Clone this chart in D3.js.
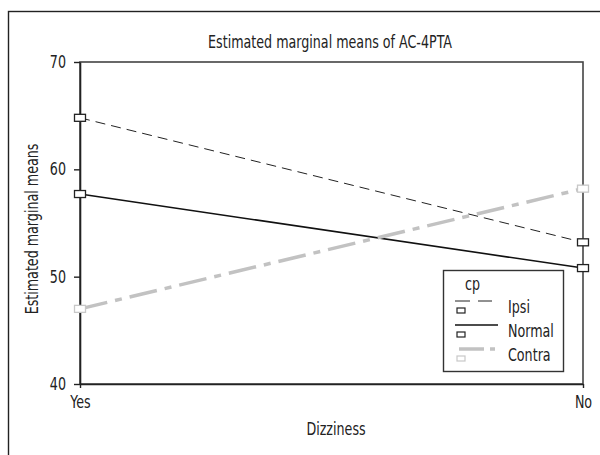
<!DOCTYPE html>
<html>
<head>
<meta charset="utf-8">
<script src="https://cdn.jsdelivr.net/npm/d3@7"></script>
<style>
  body { margin: 0; background: #fff; }
  text { font-family: "Liberation Sans Narrow", "DejaVu Sans Condensed", sans-serif; fill: #222; }
</style>
</head>
<body>
<svg id="chart" width="600" height="455"></svg>
<script>
// data
var categories = ["Yes", "No"];
var ipsi = [64.8, 53.2];
var normal = [57.7, 50.8];
var contra = [47.0, 58.2];
var yTicks = [40, 50, 60, 70];
var seriesNames = ["Ipsi", "Normal", "Contra"];

var translate = function(x, y) { return "translate(" + x + "," + y + ")"; };
// squeeze the text a bit, the source uses a narrow font
var squeeze = " scale(0.83,1)";

var svg = d3.select("#chart");
var margin = { top: 62, right: 17, bottom: 71, left: 80 };
var plotWidth = 600 - margin.left - margin.right;
var plotHeight = 455 - margin.top - margin.bottom;

// outer frame, cut off right and bottom like the source
svg.append("rect")
  .attr("x", 8.5).attr("y", 11.5)
  .attr("width", 700).attr("height", 700)
  .attr("fill", "none").attr("stroke", "#222").attr("stroke-width", 1.4);

var x = d3.scalePoint().domain(categories).range([0, plotWidth]);
var y = d3.scaleLinear().domain([40, 70]).range([plotHeight, 0]);

var plot = svg.append("g").attr("transform", translate(margin.left, margin.top));

// plot box
plot.append("rect")
  .attr("x", 0).attr("y", 0)
  .attr("width", plotWidth).attr("height", plotHeight)
  .attr("fill", "none").attr("stroke", "#444").attr("stroke-width", 1.6);

var gy = plot.append("g").call(d3.axisLeft(y).tickValues(yTicks).tickSize(6).tickSizeOuter(0).tickPadding(7));
var gx = plot.append("g").attr("transform", translate(0, plotHeight))
  .call(d3.axisBottom(x).tickSize(4).tickSizeOuter(0).tickPadding(6));

[gx, gy].forEach(function(g) {
  g.select(".domain").attr("stroke", "#222").attr("stroke-width", 1.6);
  g.selectAll(".tick line").attr("stroke", "#222").attr("stroke-width", 1.4);
  g.selectAll(".tick text")
    .style("font-family", "'Liberation Sans Narrow', 'DejaVu Sans Condensed', sans-serif")
    .style("font-size", "17px").attr("fill", "#222");
});
gy.selectAll(".tick text").attr("x", 0).attr("transform", "translate(-14,0)" + squeeze);
gx.selectAll(".tick text").attr("y", 0).attr("transform", "translate(0,12)" + squeeze);

var series = [
  { name: "Ipsi", values: ipsi, color: "#222", width: 1, dash: "10,6", mark: "#222" },
  { name: "Normal", values: normal, color: "#111", width: 1.6, dash: null, mark: "#222" },
  { name: "Contra", values: contra, color: "#c2c2c2", width: 3.5, dash: "28,8,7,8", mark: "#c8c8c8" }
];

var line = d3.line()
  .x(function(d, i) { return x(categories[i]); })
  .y(function(d) { return y(d); });

series.forEach(function(s) {
  plot.append("path")
    .datum(s.values)
    .attr("d", line)
    .attr("fill", "none")
    .attr("stroke", s.color)
    .attr("stroke-width", s.width)
    .attr("stroke-dasharray", s.dash);
});

series.forEach(function(s) {
  plot.selectAll(null)
    .data(s.values)
    .enter().append("rect")
    .attr("x", function(d, i) { return x(categories[i]) - 5.5; })
    .attr("y", function(d) { return y(d) - 3.5; })
    .attr("width", 11).attr("height", 7)
    .attr("fill", "#fff")
    .attr("stroke", s.mark).attr("stroke-width", 1.3);
});

// titles
svg.append("text")
  .attr("transform", translate(330, 48) + squeeze)
  .attr("text-anchor", "middle")
  .style("font-size", "17px")
  .text("Estimated marginal means of AC-4PTA");

svg.append("text")
  .attr("transform", translate(336, 435) + squeeze)
  .attr("text-anchor", "middle")
  .style("font-size", "17px")
  .text("Dizziness");

svg.append("text")
  .attr("transform", translate(38, 229) + " rotate(-90)" + squeeze)
  .attr("text-anchor", "middle")
  .style("font-size", "17px")
  .text("Estimated marginal means");

// legend
var legend = svg.append("g").attr("transform", translate(443, 270));
legend.append("rect")
  .attr("x", 0.5).attr("y", 0.5)
  .attr("width", 120).attr("height", 101)
  .attr("fill", "#fff").attr("stroke", "#333").attr("stroke-width", 1.4);

legend.append("text")
  .attr("transform", translate(22, 20) + squeeze)
  .style("font-size", "17px")
  .text("cp");

var item = legend.selectAll(".item")
  .data(series)
  .enter().append("g")
  .attr("class", "item")
  .attr("transform", function(d, i) { return translate(0, 31 + i * 24); });

item.append("line")
  .attr("x1", function(d) { return d.name === "Contra" ? 16 : 12; })
  .attr("x2", function(d) { return d.name === "Ipsi" ? 49 : (d.name === "Contra" ? 52 : 55); })
  .attr("y1", 0).attr("y2", 0)
  .attr("stroke", function(d) { return d.color; })
  .attr("stroke-width", function(d) { return d.width; })
  .attr("stroke-dasharray", function(d) { return d.name === "Contra" ? "25,6,6,6" : (d.name === "Ipsi" ? "15,8" : null); });

item.append("rect")
  .attr("x", 14).attr("y", 7)
  .attr("width", 8).attr("height", 5)
  .attr("fill", "#fff")
  .attr("stroke", function(d) { return d.mark; })
  .attr("stroke-width", 1.2);

item.append("text")
  .attr("transform", translate(65, 12) + squeeze)
  .style("font-size", "17px")
  .text(function(d) { return d.name; });
</script>
</body>
</html>
